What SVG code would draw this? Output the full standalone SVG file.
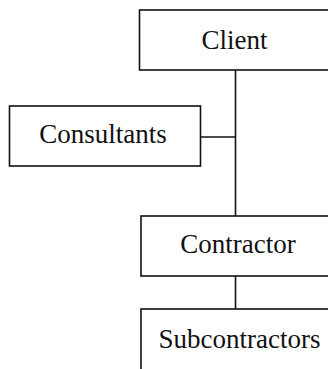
<svg xmlns="http://www.w3.org/2000/svg" width="328" height="369" viewBox="0 0 328 369">
  <style>
    .box { fill: #ffffff; stroke: #111111; stroke-width: 1.6; }
    .link { stroke: #111111; stroke-width: 1.6; fill: none; }
    .label { font-family: "Liberation Serif", "Times New Roman", serif; font-size: 27px; fill: #111111; text-anchor: middle; }
  </style>
  <rect width="328" height="369" fill="#ffffff"/>
  <g id="connectors">
    <line class="link" x1="235.5" y1="70" x2="235.5" y2="216"/>
    <line class="link" x1="200" y1="137" x2="235.5" y2="137"/>
    <line class="link" x1="235.5" y1="276" x2="235.5" y2="309"/>
  </g>
  <g id="client">
    <rect class="box" x="139.5" y="10" width="192" height="60"/>
    <text class="label" x="234.5" y="49">Client</text>
  </g>
  <g id="consultants">
    <rect class="box" x="9.5" y="106" width="191" height="60"/>
    <text class="label" x="103" y="143">Consultants</text>
  </g>
  <g id="contractor">
    <rect class="box" x="141" y="216" width="190" height="60"/>
    <text class="label" x="238" y="253">Contractor</text>
  </g>
  <g id="subcontractors">
    <rect class="box" x="141" y="309" width="190" height="70"/>
    <text class="label" x="239.5" y="348">Subcontractors</text>
  </g>
</svg>
